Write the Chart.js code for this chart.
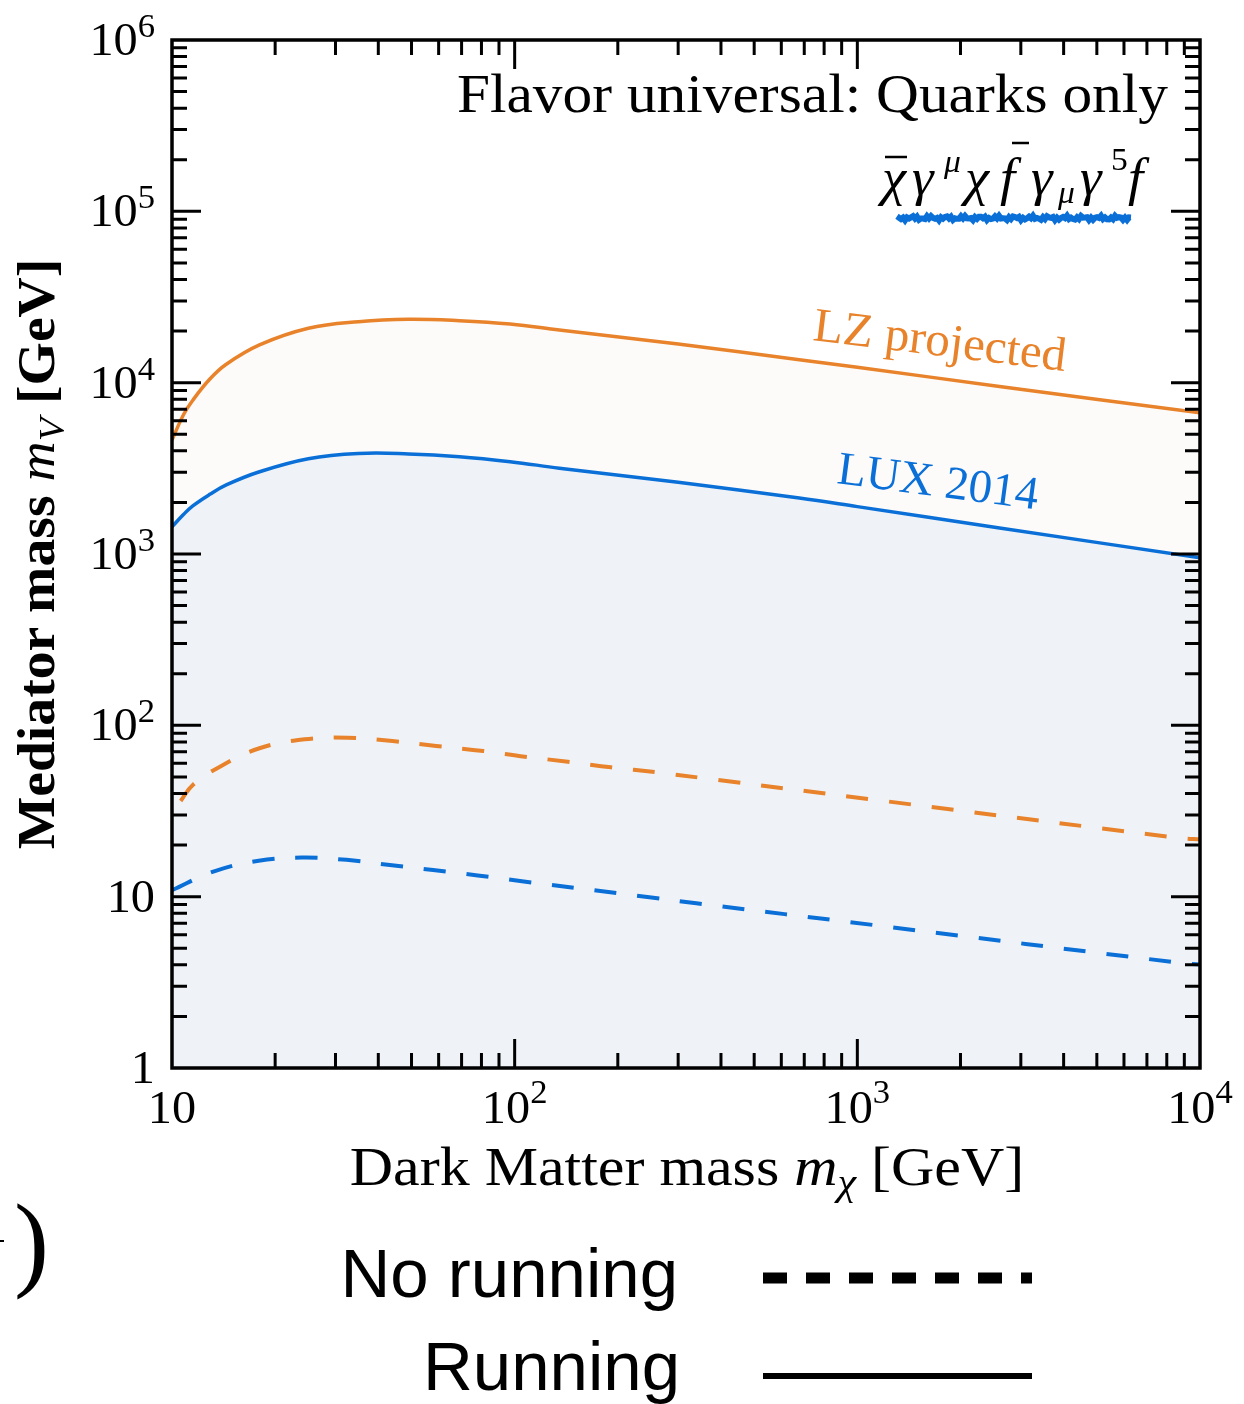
<!DOCTYPE html>
<html>
<head>
<meta charset="utf-8">
<script src="https://cdn.jsdelivr.net/npm/chart.js@4.4.0/dist/chart.umd.min.js"></script>
<style>
html,body{margin:0;padding:0;background:#fff;}
canvas{display:block;}
</style>
</head>
<body>
<canvas id="myChart" width="1244" height="1404"></canvas>
<script>
// dark matter mass grid [GeV] and mediator mass bounds [GeV]
var massRun=[10,10.8,11.5,12.9,14.4,18,25,35,49,69,97,135,300,677,1000,2600,10000];
var luxRun=[1440,1700,1910,2230,2530,3020,3600,3860,3840,3700,3460,3170,2620,2120,1890,1420,950];
var lzRun=[4630,6500,7900,10500,12800,16600,20760,22700,23440,23000,22000,20300,16800,13600,12300,9500,6680];

var massLzNoRun=[10.6,11.5,13.8,18,24.4,32.6,44,59,81,107,143,191,259,346,1130,8890,10000];
var lzNoRun=[36.2,44.9,57.4,73.5,82.9,84.7,81,75.8,70.8,65.6,61.3,56.9,53.2,49.5,36.7,21.9,21.6];
var massLuxNoRun=[10,13.2,17.9,23.9,32.3,43.2,57.8,78,105,254,339,1110,8630,10000];
var luxNoRun=[10.9,14.0,16.2,16.9,16.4,15.3,14.3,13.3,12.3,9.86,9.15,6.84,4.12,4.02];

var xTickValues=[10,100,1000,10000];
var xTickExps=['','2','3','4'];
var yTickValues=[1,10,100,1000,10000,100000,1000000];
var yTickExps=['','','2','3','4','5','6'];

var blue='#0b6fd8';
var orange='#e8832b';
var serif='"Liberation Serif", "DejaVu Serif", serif';

function toPoints(xs,ys){
    return xs.map(function(v,i){ return {x:v,y:ys[i]}; });
}

// draw a row of text pieces; sx stretches glyphs sideways (the figure uses a wide TeX face)
function drawParts(ctx,parts,x,y,align,sx){
    sx=sx||1;
    var w=0;
    parts.forEach(function(p){ ctx.font=p.font; p.w=ctx.measureText(p.t).width*sx; w+=p.w+(p.gap||0); });
    var cx=align=='right'? x-w : align=='center'? x-w/2 : x;
    ctx.textAlign='left';
    ctx.textBaseline='alphabetic';
    parts.forEach(function(p){
        ctx.font=p.font;
        ctx.save();
        ctx.translate(cx,y+(p.dy||0));
        ctx.scale(sx,1);
        ctx.fillText(p.t,0,0);
        ctx.restore();
        cx+=p.w+(p.gap||0);
    });
}

var decorations={
    id:'decorations',
    afterDraw:function(chart){
        var ctx=chart.ctx, a=chart.chartArea, xs=chart.scales.x, ys=chart.scales.y;
        ctx.save();
        ctx.strokeStyle='#000';
        ctx.fillStyle='#000';
        ctx.lineCap='butt';

        // frame
        ctx.lineWidth=3.5;
        ctx.strokeRect(a.left,a.top,a.right-a.left,a.bottom-a.top);

        // ticks on all four sides, pointing inward
        ctx.lineWidth=3;
        ctx.beginPath();
        for(var k=1;k<=3;k++){
            for(var m=1;m<=9;m++){
                var v=m*Math.pow(10,k);
                if(v<=10 || v>=10000) continue;
                var len=(m==1)?29:15;
                var px=xs.getPixelForValue(v);
                ctx.moveTo(px,a.bottom); ctx.lineTo(px,a.bottom-len);
                ctx.moveTo(px,a.top); ctx.lineTo(px,a.top+len);
            }
        }
        for(var k=0;k<=5;k++){
            for(var m=1;m<=9;m++){
                var v=m*Math.pow(10,k);
                if(v<=1 || v>=1000000) continue;
                var len=(m==1)?29:15;
                var py=ys.getPixelForValue(v);
                ctx.moveTo(a.left,py); ctx.lineTo(a.left+len,py);
                ctx.moveTo(a.right,py); ctx.lineTo(a.right-len,py);
            }
        }
        ctx.stroke();

        // tick labels
        var mainF='46px '+serif, supF='33px '+serif;
        xTickValues.forEach(function(v,i){
            var base=v==1?'1':'10';
            var parts=[{t:base,font:mainF}];
            if(xTickExps[i]) parts.push({t:xTickExps[i],font:supF,dy:-20});
            drawParts(ctx,parts,xs.getPixelForValue(v),a.bottom+55,'center',1.05);
        });
        yTickValues.forEach(function(v,i){
            var base=v==1?'1':'10';
            var parts=[{t:base,font:mainF}];
            if(yTickExps[i]) parts.push({t:yTickExps[i],font:supF,dy:-18});
            drawParts(ctx,parts,155,ys.getPixelForValue(v)+15,'right',1.05);
        });

        // axis titles
        drawParts(ctx,[
            {t:'Dark Matter mass ',font:'54px '+serif},
            {t:'m',font:'italic 54px '+serif},
            {t:'\u03c7',font:'italic 38px '+serif,dy:10},
            {t:' [GeV]',font:'54px '+serif}
        ],687,1185,'center',1.11);

        ctx.save();
        ctx.translate(54,554);
        ctx.rotate(-Math.PI/2);
        drawParts(ctx,[
            {t:'Mediator mass ',font:'bold 52px '+serif},
            {t:'m',font:'italic 52px '+serif},
            {t:'V',font:'italic 36px '+serif,dy:10},
            {t:' [GeV]',font:'bold 52px '+serif}
        ],0,0,'center',1.07);
        ctx.restore();

        // panel title
        drawParts(ctx,[{t:'Flavor universal: Quarks only',font:'54px '+serif}],1168,112,'right',1.1);

        // operator, glyph by glyph
        var fI='italic 52px '+serif, fS='italic 32px '+serif, fN='32px '+serif;
        var glyphs=[
            ['\u03c7',fI,882,195],['\u03b3',fI,912,195],['\u03bc',fS,944,172],
            ['\u03c7',fI,965,195],['f',fI,1000,195],['\u03b3',fI,1031,195],
            ['\u03bc',fS,1058,203],['\u03b3',fI,1080,195],['5',fN,1111,170],['f',fI,1128,195]
        ];
        glyphs.forEach(function(g){
            ctx.font=g[1];
            ctx.save(); ctx.translate(g[2],g[3]); ctx.scale(1.05,1);
            ctx.textAlign='left'; ctx.fillText(g[0],0,0);
            ctx.restore();
        });
        ctx.lineWidth=2.5;
        ctx.beginPath();
        ctx.moveTo(885,157); ctx.lineTo(907,157);
        ctx.moveTo(1012,143); ctx.lineTo(1029,143);
        ctx.stroke();

        // blue squiggle under the operator
        ctx.strokeStyle=blue;
        ctx.lineWidth=6;
        ctx.beginPath();
        for(var sx=897;sx<=1132;sx+=2){
            var sy=218+1.4*Math.sin(sx*1.3)+1.0*Math.sin(sx*0.37);
            if(sx==897) ctx.moveTo(sx,sy); else ctx.lineTo(sx,sy);
        }
        ctx.stroke();

        // curve labels
        ctx.fillStyle=orange;
        ctx.save();
        ctx.translate(812,340);
        ctx.rotate(7*Math.PI/180);
        drawParts(ctx,[{t:'LZ projected',font:'48px '+serif}],0,0,'left',1.02);
        ctx.restore();
        ctx.fillStyle=blue;
        ctx.save();
        ctx.translate(836,483);
        ctx.rotate(7.5*Math.PI/180);
        drawParts(ctx,[{t:'LUX 2014',font:'47px '+serif}],0,0,'left',1.0);
        ctx.restore();

        // line style key below the plot
        ctx.fillStyle='#000';
        ctx.strokeStyle='#000';
        var sans='"Liberation Sans", Arial, sans-serif';
        drawParts(ctx,[{t:'No running',font:'69px '+sans}],678,1297,'right');
        drawParts(ctx,[{t:'Running',font:'69px '+sans}],680,1390,'right');
        ctx.lineWidth=11;
        ctx.setLineDash([24,19]);
        ctx.beginPath(); ctx.moveTo(763,1278); ctx.lineTo(1032,1278); ctx.stroke();
        ctx.setLineDash([]);
        ctx.lineWidth=6;
        ctx.beginPath(); ctx.moveTo(763,1376); ctx.lineTo(1032,1376); ctx.stroke();

        // cut-off panel mark at the left edge
        ctx.font='105px '+serif;
        ctx.textAlign='left';
        ctx.fillText(')',14,1277);
        ctx.fillRect(0,1240,4,2);

        ctx.restore();
    }
};

var ctx=document.getElementById('myChart').getContext('2d');
var myChart=new Chart(ctx,{
    type:'line',
    data:{
        datasets:[
            {label:'LUX 2014 running',data:toPoints(massRun,luxRun),borderColor:blue,borderWidth:3.5,
             fill:'start',backgroundColor:'#eff3f7',tension:0.4},
            {label:'LZ projected running',data:toPoints(massRun,lzRun),borderColor:orange,borderWidth:3.5,
             fill:'-1',backgroundColor:'#fcfbf9',tension:0.4},
            {label:'LZ projected no running',data:toPoints(massLzNoRun,lzNoRun),borderColor:orange,borderWidth:4,
             borderDash:[22,21],fill:false,tension:0.4},
            {label:'LUX 2014 no running',data:toPoints(massLuxNoRun,luxNoRun),borderColor:blue,borderWidth:4,
             borderDash:[22,21],fill:false,tension:0.4}
        ]
    },
    options:{
        responsive:false,
        animation:false,
        layout:{padding:{left:172,top:40,right:44,bottom:336}},
        elements:{point:{radius:0}},
        scales:{
            x:{type:'logarithmic',min:10,max:10000,display:false},
            y:{type:'logarithmic',min:1,max:1000000,display:false}
        },
        plugins:{
            legend:{display:false},
            tooltip:{enabled:false},
            filler:{drawTime:'beforeDatasetsDraw'}
        }
    },
    plugins:[decorations]
});
</script>
</body>
</html>
